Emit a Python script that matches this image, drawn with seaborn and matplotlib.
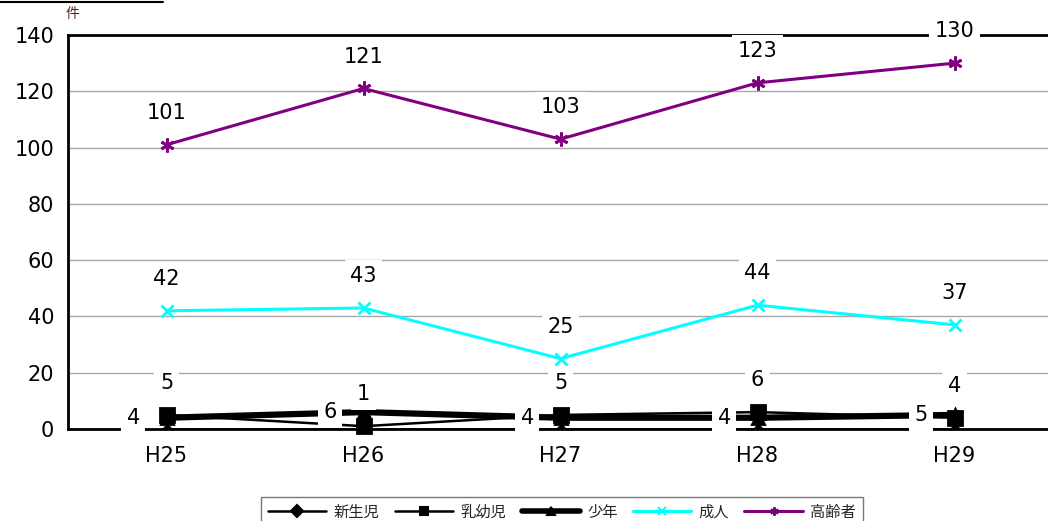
import matplotlib
matplotlib.use("Agg")
import matplotlib.pyplot as plt
import seaborn as sns
import pandas as pd
from matplotlib.lines import Line2D

years = ["H25", "H26", "H27", "H28", "H29"]
newborn = [0, 0, 0, 0, 0]
infant = [5, 1, 5, 6, 4]
youth = [4, 6, 4, 4, 5]
adult = [42, 43, 25, 44, 37]
elderly = [101, 121, 103, 123, 130]

series_names = ["新生児", "乳幼児", "少年", "成人", "高齢者"]
series_vals = [newborn, infant, youth, adult, elderly]

sns.set_style("white")
plt.rcParams["font.family"] = ["DejaVu Sans", "Noto Sans CJK JP"]

rows = []
for name, vals in zip(series_names, series_vals):
    for i, v in enumerate(vals):
        rows.append({"系列": name, "x": i, "年度": years[i], "件数": v})
df = pd.DataFrame(rows)

styles = {
    "新生児": dict(color="black", marker="D", lw=1.8, ms=4),
    "乳幼児": dict(color="black", marker="s", lw=1.8, ms=10),
    "少年": dict(color="black", marker="^", lw=4.5, ms=8),
    "成人": dict(color="#00FFFF", marker="x", lw=2.2, ms=9),
    "高齢者": dict(color="#800080", marker=(6, 2, 0), lw=2.2, ms=10),
}
# label placement: (dx, dy) in points
label_pos = {
    "乳幼児": (0, 23),
    "少年": (-24, 0),
    "成人": (0, 23),
    "高齢者": (0, 23),
}

fig = plt.figure(figsize=(10.48, 5.21), dpi=100)
ax = fig.add_axes([68 / 1048, (521 - 429) / 521, 985 / 1048, 394 / 521])

for name in series_names:
    st = styles[name]
    sub = df[df["系列"] == name]
    on_axis = name == "新生児"
    sns.lineplot(data=sub, x="x", y="件数", ax=ax, color=st["color"], lw=st["lw"],
                 marker=st["marker"], markersize=st["ms"], markeredgecolor=st["color"],
                 markeredgewidth=2, legend=False, zorder=2 if on_axis else 3,
                 clip_on=on_axis)

ax.set_xlim(-0.5, 4.5)
ax.set_ylim(0, 140)
ax.set_yticks(range(0, 141, 20))
ax.set_xticks(range(len(years)))
ax.set_xticklabels(years)
ax.set_xticks([0.5, 1.5, 2.5, 3.5], minor=True)
ax.tick_params(axis="x", which="major", length=0, pad=12, labelsize=15, labelcolor="black")
ax.tick_params(axis="x", which="minor", length=5, direction="in", color="#888888")
ax.tick_params(axis="y", length=0, pad=10, labelsize=15, labelcolor="black")
ax.set_xlabel("")
ax.set_ylabel("")
ax.yaxis.grid(True, color="#a8a8a8", lw=1)
ax.set_axisbelow(True)
for side in ["left", "top", "bottom"]:
    ax.spines[side].set_color("black")
    ax.spines[side].set_linewidth(2)
    ax.spines[side].set_zorder(2.5)
ax.spines["right"].set_visible(False)

for name, vals in zip(series_names, series_vals):
    if name not in label_pos:
        continue
    dx, dy = label_pos[name]
    for i, v in enumerate(vals):
        ax.annotate(str(v), (i, v), xytext=(dx, dy), textcoords="offset points",
                    ha="center", va="center", fontsize=15, zorder=5, color="black",
                    bbox=dict(facecolor="white", edgecolor="none", pad=4),
                    annotation_clip=False)

fig.text(66 / 1048, 1 - 14 / 521, "件", fontsize=10, color="#5a2020",
         ha="left", va="center")
fig.add_artist(Line2D([0, 163 / 1048], [1 - 2 / 521, 1 - 2 / 521],
                      color="black", lw=1.5, transform=fig.transFigure))

handles = [Line2D([], [], color=styles[n]["color"], lw=min(styles[n]["lw"], 4),
                  marker=styles[n]["marker"], ms=6, markeredgewidth=1.5)
           for n in series_names]
fig.legend(handles, series_names, loc="upper center", ncol=5,
           bbox_to_anchor=(562 / 1048, 1 - 489 / 521), frameon=True, fancybox=False,
           edgecolor="#555555", handlelength=3.8, columnspacing=1.0,
           borderpad=0.45, handletextpad=0.5,
           prop={"family": ["Noto Sans CJK JP"], "size": 11})

fig.savefig("out.png", dpi=100, facecolor="white")
